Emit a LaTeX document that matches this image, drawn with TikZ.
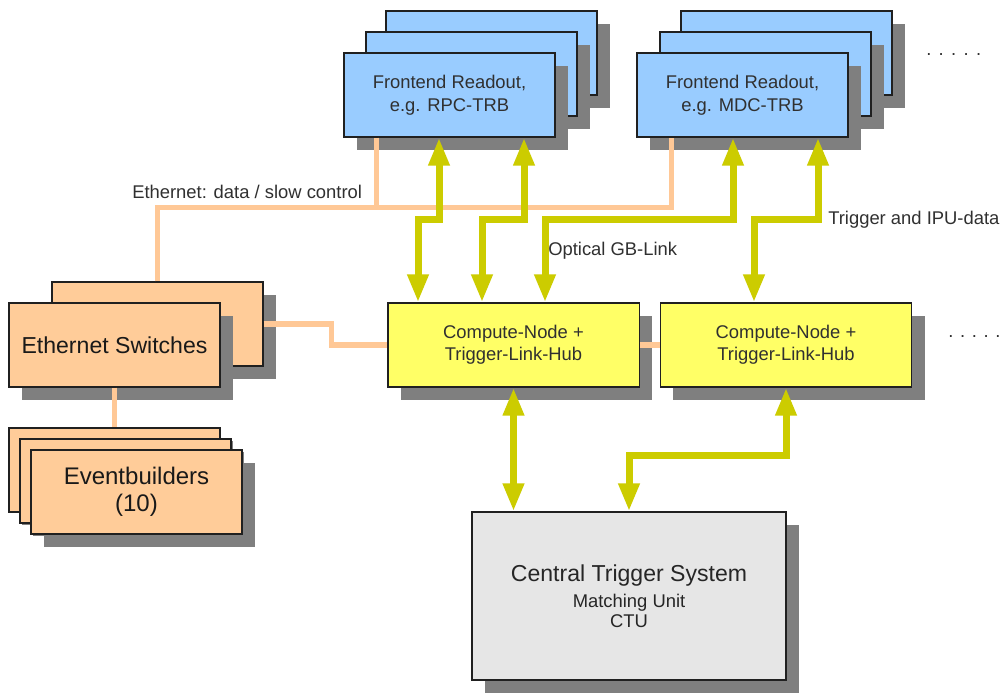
\documentclass[tikz,border=0pt]{standalone}
\usepackage{fontspec}
\setmainfont{Liberation Sans}
\usetikzlibrary{arrows.meta,calc,shadows}

\definecolor{feblue}{HTML}{99CCFF}
\definecolor{peach}{HTML}{FFCC99}
\definecolor{ethline}{HTML}{FFC896}
\definecolor{cnyellow}{HTML}{FFFF66}
\definecolor{linkol}{HTML}{CCCC00}
\definecolor{ctsgray}{HTML}{E6E6E6}
\definecolor{shadowc}{HTML}{7F7F7F}
\definecolor{edgec}{HTML}{202020}
\definecolor{txt}{HTML}{303030}

\begin{document}
\begin{tikzpicture}[x=0.75pt,y=-0.75pt,
  box/.style={draw=edgec, line width=1.1pt, text=txt, align=center, inner sep=0pt,
    general shadow={fill=shadowc, shadow xshift=9.75pt, shadow yshift=-9.75pt}},
  febox/.style={box, fill=feblue, minimum width=158.25pt, minimum height=63pt,
    font=\fontsize{13.8}{17.25}\selectfont},
  pbox/.style={box, fill=peach, text=black!90, minimum width=158.25pt, minimum height=63pt},
  cnbox/.style={box, fill=cnyellow, minimum width=188.6pt, minimum height=63pt,
    font=\fontsize{13.8}{16.5}\selectfont},
  ctsbox/.style={box, fill=ctsgray, minimum width=235.5pt, minimum height=126pt,
    font=\fontsize{13.8}{15}\selectfont},
  link/.style={draw=linkol, line width=5.25pt,
    {Triangle[length=21pt,width=15pt]}-{Triangle[length=21pt,width=15pt]}},
  eth/.style={draw=ethline, line width=4.1pt},
  lbl/.style={text=txt, font=\fontsize{13.8}{16}\selectfont, inner sep=0pt},
]
\useasboundingbox (0,0) rectangle (1005,694);
\fill[white] (0,0) rectangle (1005,694);

% frontend readout boards (stacked)
\node[febox] (rpcB) at (491.5,53) {};
\node[febox] (rpcM) at (471.5,74) {};
\node[febox] (rpc)  at (449.5,95) {Frontend Readout,\\e.g. RPC-TRB};
\node[febox] (mdcB) at (786.5,53) {};
\node[febox] (mdcM) at (765.5,74) {};
\node[febox] (mdc)  at (742.5,95) {Frontend Readout,\\e.g. MDC-TRB};

% ethernet switches
\node[pbox] (esB) at (157.5,324) {};
\node[pbox, font=\fontsize{17.3}{20}\selectfont] (esF) at (114.5,345) {Ethernet Switches};

% eventbuilders
\node[pbox] (ebB) at (114.5,470) {};
\node[pbox] (ebM) at (125.5,481) {};
\node[pbox, font=\fontsize{18}{20.25}\selectfont] (ebF) at (136.5,492) {Eventbuilders\\(10)};

% compute nodes
\node[cnbox] (cn1) at (513.5,345) {Compute-Node +\\Trigger-Link-Hub};
\node[cnbox] (cn2) at (786,345) {Compute-Node +\\Trigger-Link-Hub};

% central trigger system
\node[ctsbox, text=black!85] (cts) at (629,596)
  {{\fontsize{17.3}{20}\selectfont Central Trigger System}\\[4.5pt]Matching Unit\\CTU};

% ethernet cabling
\draw[eth] (esB.north) -- ++(0,-74) -| ($(mdc.south)+(-71,0)$);
\draw[eth] ($(rpc.south)+(-73,0)$) -- ++(0,71);
\draw[eth] (esB.east) -- ++(68,0) |- (cn1.west);
\draw[eth] (cn1.east) -- (cn2.west);
\draw[eth] (esF.south) -- (ebB.north);

% optical links
\draw[link] ($(rpc.south)+(-10.5,0)$) -- ++(0,82) -| ($(cn1.north)+(-95.5,0)$);
\draw[link] ($(rpc.south)+(74.5,0)$) -- ++(0,82) -| ($(cn1.north)+(-31.5,0)$);
\draw[link] ($(mdc.south)+(-9.5,0)$) -- ++(0,82) -| ($(cn1.north)+(31.5,0)$);
\draw[link] ($(mdc.south)+(75.5,0)$) -- ++(0,82) -| ($(cn2.north)+(-32,0)$);
\draw[link] (cn1.south) -- (cn1.south |- cts.north);
\draw[link] (cn2.south) -- ++(0,68) -| (cts.north);

% labels
\node[lbl, anchor=base west] (lEth) at (132,198) {Ethernet: data / slow control};
\node[lbl, anchor=base west] (lOpt) at (548,255) {Optical GB-Link};
\node[lbl, anchor=base west] (lTrg) at (828,224) {Trigger and IPU-data};
\node[lbl, anchor=base west] (dTop) at (926,55)
  {.\hspace{5.5pt}.\hspace{5.5pt}.\hspace{5.5pt}.\hspace{5.5pt}.};
\node[lbl, anchor=base west] (dMid) at (948,337)
  {.\hspace{5pt}.\hspace{5pt}.\hspace{5pt}.\hspace{5pt}.};
\end{tikzpicture}
\end{document}
